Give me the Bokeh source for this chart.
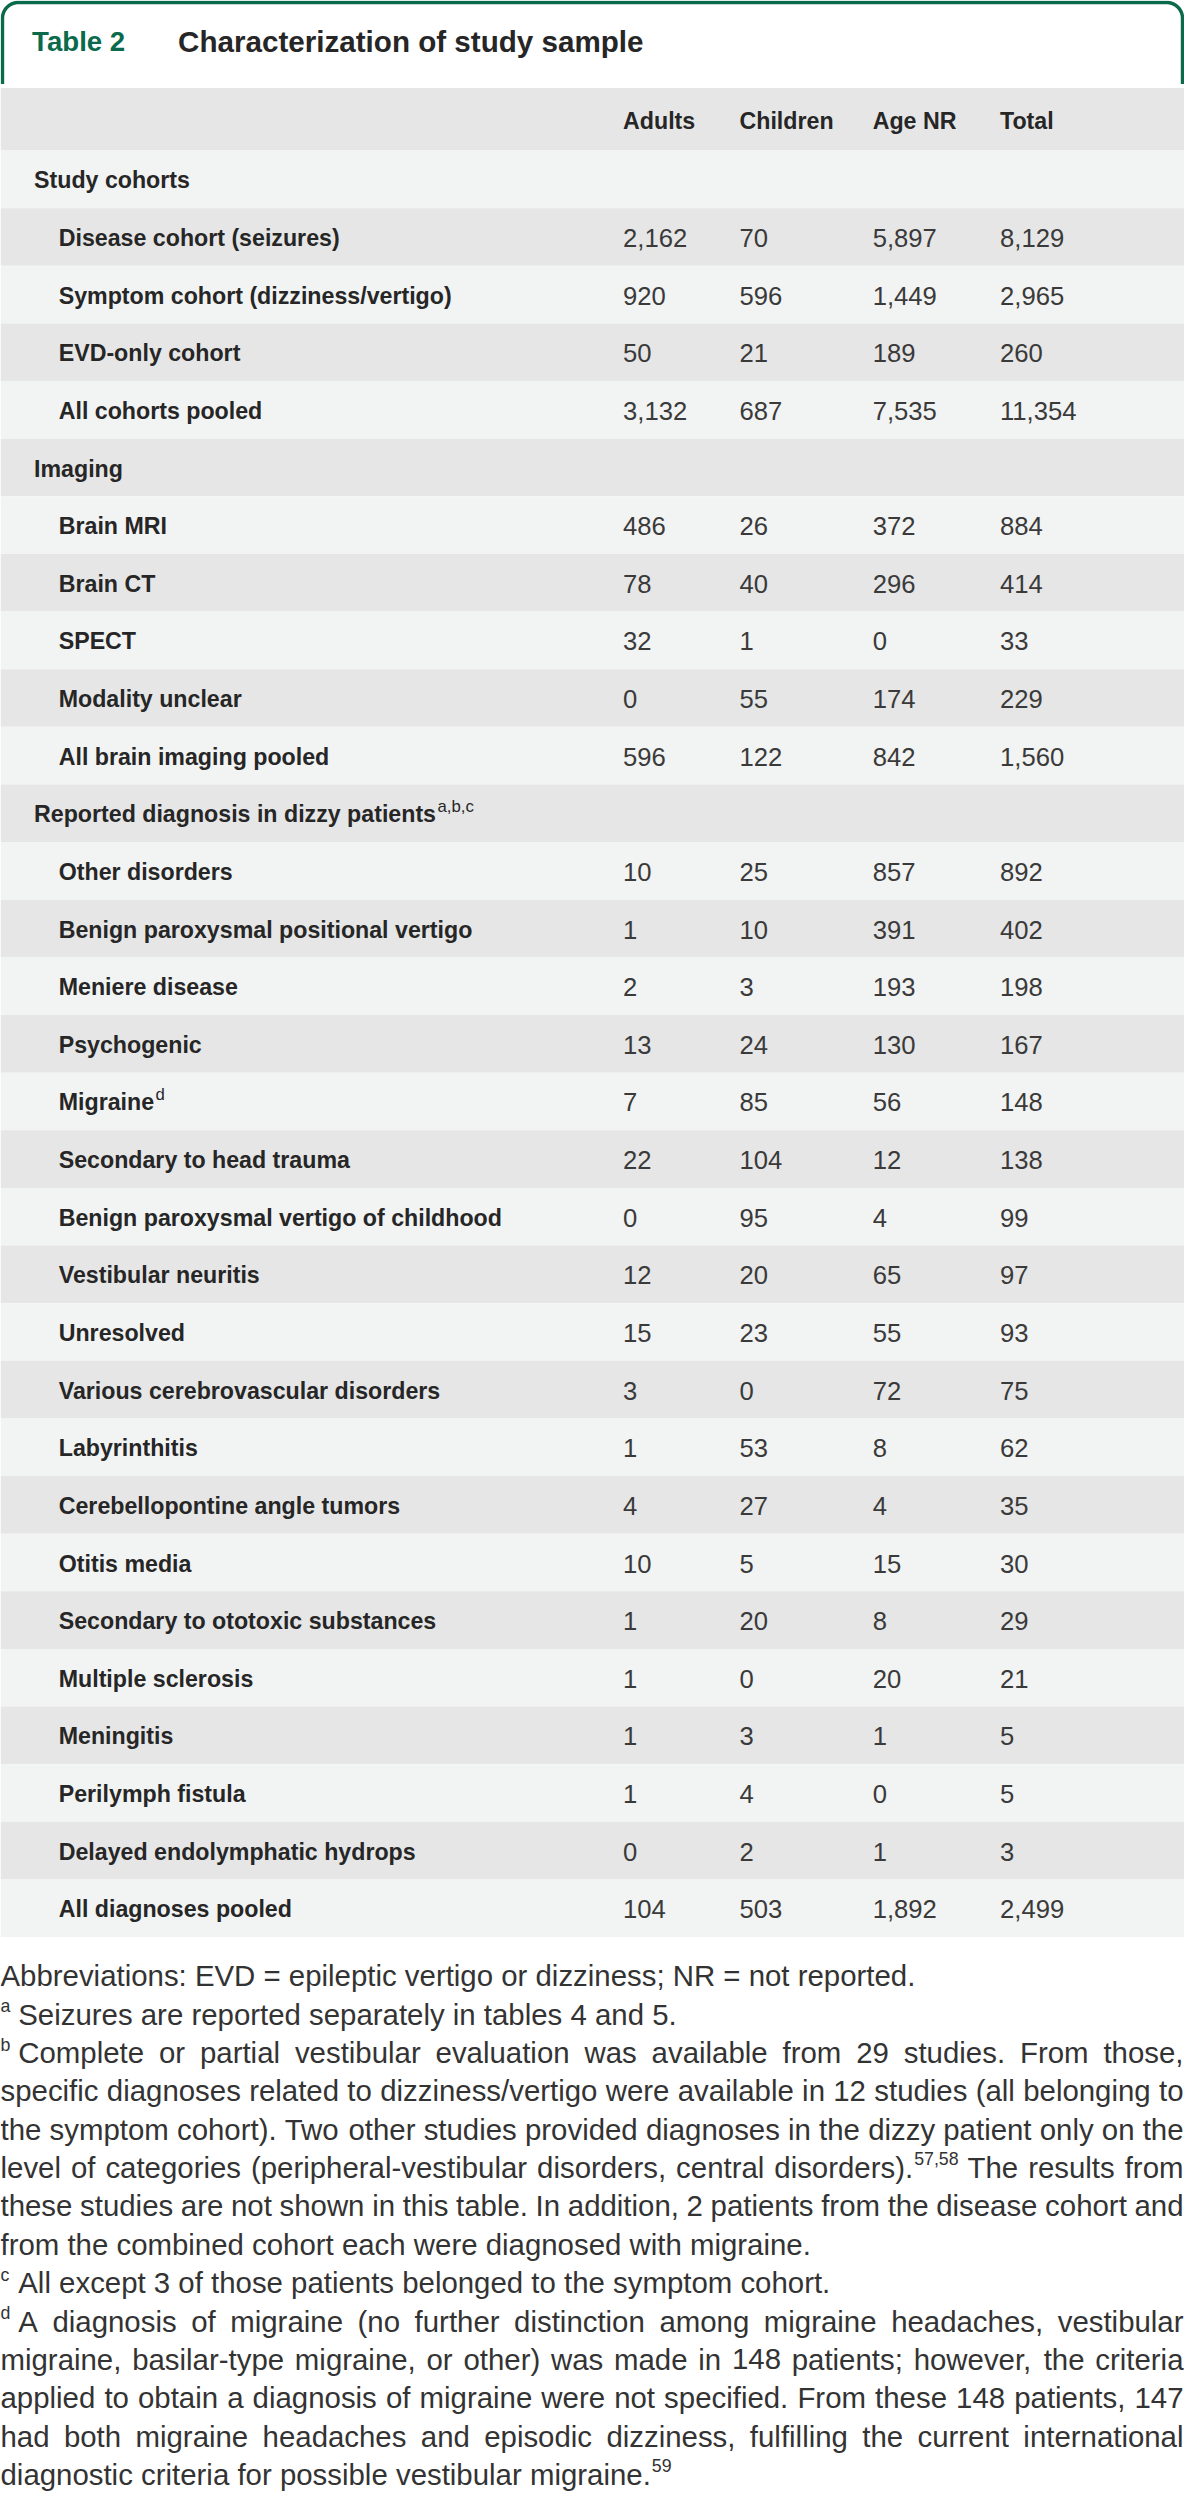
import numpy as np
from bokeh.plotting import figure
from bokeh.models import Range1d, ColumnDataSource
from bokeh.core.properties import value
from bokeh.embed import file_html
from bokeh.resources import INLINE

# ---------------- data ----------------
table_tag = "Table 2"
table_title = "Characterization of study sample"
col_headers = ["Adults", "Children", "Age NR", "Total"]

cohort_section = "Study cohorts"
cohort_labels = ["Disease cohort (seizures)", "Symptom cohort (dizziness/vertigo)",
                 "EVD-only cohort", "All cohorts pooled"]
cohort_adults = [2162, 920, 50, 3132]
cohort_children = [70, 596, 21, 687]
cohort_age_nr = [5897, 1449, 189, 7535]
cohort_total = [8129, 2965, 260, 11354]

imaging_section = "Imaging"
imaging_labels = ["Brain MRI", "Brain CT", "SPECT", "Modality unclear", "All brain imaging pooled"]
imaging_adults = [486, 78, 32, 0, 596]
imaging_children = [26, 40, 1, 55, 122]
imaging_age_nr = [372, 296, 0, 174, 842]
imaging_total = [884, 414, 33, 229, 1560]

dx_section = "Reported diagnosis in dizzy patients"
dx_section_sup = "a,b,c"
dx_labels = ["Other disorders", "Benign paroxysmal positional vertigo", "Meniere disease",
             "Psychogenic", "Migraine", "Secondary to head trauma",
             "Benign paroxysmal vertigo of childhood", "Vestibular neuritis", "Unresolved",
             "Various cerebrovascular disorders", "Labyrinthitis", "Cerebellopontine angle tumors",
             "Otitis media", "Secondary to ototoxic substances", "Multiple sclerosis", "Meningitis",
             "Perilymph fistula", "Delayed endolymphatic hydrops", "All diagnoses pooled"]
dx_label_sups = ["", "", "", "", "d", "", "", "", "", "", "", "", "", "", "", "", "", "", ""]
dx_adults = [10, 1, 2, 13, 7, 22, 0, 12, 15, 3, 1, 4, 10, 1, 1, 1, 1, 0, 104]
dx_children = [25, 10, 3, 24, 85, 104, 95, 20, 23, 0, 53, 27, 5, 20, 0, 3, 4, 2, 503]
dx_age_nr = [857, 391, 193, 130, 56, 12, 4, 65, 55, 72, 8, 4, 15, 8, 20, 1, 0, 1, 1892]
dx_total = [892, 402, 198, 167, 148, 138, 99, 97, 93, 75, 62, 35, 30, 29, 21, 5, 5, 3, 2499]

# footnotes: (marker, text, justified); "^" marks a superscript tail of a word
foot_lines = [
    ("", "Abbreviations: EVD = epileptic vertigo or dizziness; NR = not reported.", False),
    ("a", "Seizures are reported separately in tables 4 and 5.", False),
    ("b", "Complete or partial vestibular evaluation was available from 29 studies. From those,", True),
    ("", "specific diagnoses related to dizziness/vertigo were available in 12 studies (all belonging to", True),
    ("", "the symptom cohort). Two other studies provided diagnoses in the dizzy patient only on the", True),
    ("", "level of categories (peripheral-vestibular disorders, central disorders).^57,58 The results from", True),
    ("", "these studies are not shown in this table. In addition, 2 patients from the disease cohort and", True),
    ("", "from the combined cohort each were diagnosed with migraine.", False),
    ("c", "All except 3 of those patients belonged to the symptom cohort.", False),
    ("d", "A diagnosis of migraine (no further distinction among migraine headaches, vestibular", True),
    ("", "migraine, basilar-type migraine, or other) was made in 148 patients; however, the criteria", True),
    ("", "applied to obtain a diagnosis of migraine were not specified. From these 148 patients, 147", True),
    ("", "had both migraine headaches and episodic dizziness, fulfilling the current international", True),
    ("", "diagnostic criteria for possible vestibular migraine.^59", False),
]

# ---------------- styling / layout (reference pixel units) ----------------
REF_W, REF_H = 1200, 2517
PW, PH = 1184, 2501
S = PW / REF_W

GREEN = "#0a6a4b"
DARK = "#262626"
NUM = "#3a3a3a"
BAND_DARK = "#e6e6e6"
BAND_LIGHT = "#f2f3f3"

SANS = "'Liberation Sans', Arial, sans-serif"

HEADER_TOP, HEADER_BOT = 88, 151
ROW_H = 58.0
COL_X = [631, 749, 884, 1013]
SEC_X, ITEM_X = 34, 59

F_LABEL = 23.5
F_NUM = 26
F_FOOT = 29.8
F_SUP = 18
FOOT_Y0, FOOT_DY = 1988, 38.6

# Arial / Liberation metrics (1/1000 em)
_REG = {' ': 278, '(': 333, ')': 333, ',': 278, '-': 333, '.': 278, '/': 278, ':': 278, ';': 278,
        '=': 584, 'A': 667, 'B': 667, 'C': 722, 'D': 722, 'E': 667, 'F': 611, 'G': 778, 'H': 722,
        'I': 278, 'J': 500, 'K': 667, 'L': 556, 'M': 833, 'N': 722, 'O': 778, 'P': 667, 'Q': 778,
        'R': 722, 'S': 667, 'T': 611, 'U': 722, 'V': 667, 'W': 944, 'X': 667, 'Y': 667, 'Z': 611,
        'a': 556, 'b': 556, 'c': 500, 'd': 556, 'e': 556, 'f': 278, 'g': 556, 'h': 556, 'i': 222,
        'j': 222, 'k': 500, 'l': 222, 'm': 833, 'n': 556, 'o': 556, 'p': 556, 'q': 556, 'r': 333,
        's': 500, 't': 278, 'u': 556, 'v': 500, 'w': 722, 'x': 500, 'y': 500, 'z': 500}
_BOLD = {' ': 278, '(': 333, ')': 333, ',': 278, '-': 333, '.': 278, '/': 278, ':': 333, ';': 333,
         'A': 722, 'B': 722, 'C': 722, 'D': 722, 'E': 667, 'F': 611, 'G': 778, 'H': 722, 'I': 278,
         'J': 556, 'K': 722, 'L': 611, 'M': 833, 'N': 722, 'O': 778, 'P': 667, 'Q': 778, 'R': 722,
         'S': 667, 'T': 611, 'U': 722, 'V': 667, 'W': 944, 'X': 667, 'Y': 667, 'Z': 611,
         'a': 556, 'b': 611, 'c': 556, 'd': 611, 'e': 556, 'f': 333, 'g': 611, 'h': 611, 'i': 278,
         'j': 278, 'k': 556, 'l': 278, 'm': 889, 'n': 611, 'o': 611, 'p': 611, 'q': 611, 'r': 389,
         's': 556, 't': 333, 'u': 611, 'v': 556, 'w': 778, 'x': 556, 'y': 556, 'z': 500}


def tw(s, size, table=_REG, k=1.0):
    return sum(table.get(ch, 556) for ch in s) / 1000.0 * size * k


def px(size):
    return value(f"{size * S:.2f}px")


p = figure(width=PW, height=PH, x_range=Range1d(0, REF_W), y_range=Range1d(REF_H, 0),
           output_backend="svg", toolbar_location=None, min_border=0)
p.axis.visible = False
p.grid.visible = False
p.outline_line_color = None
p.background_fill_color = "white"
p.border_fill_color = "white"


def add_text(xs, ys, texts, size, font, color, style="normal"):
    src = ColumnDataSource(dict(x=list(xs), y=list(ys), t=list(texts)))
    p.text(x="x", y="y", text="t", source=src, text_font=value(font), text_font_size=px(size),
           text_font_style=style, text_color=color, text_baseline="middle", text_align="left")


# ---------------- title tab border ----------------
R = 16
xl, xr, yt, yb = 2, 1198, 2, 84
th1 = np.linspace(np.pi, 1.5 * np.pi, 20)
th2 = np.linspace(1.5 * np.pi, 2 * np.pi, 20)
bx = np.concatenate([[xl], xl + R + R * np.cos(th1), xr - R + R * np.cos(th2), [xr]])
by = np.concatenate([[yb], yt + R + R * np.sin(th1), yt + R + R * np.sin(th2), [yb]])
p.line(bx, by, line_color=GREEN, line_width=3.5 * S)

add_text([32], [41], [table_tag], 28, SANS, GREEN, "bold")
add_text([180], [41], [table_title], 30, SANS, DARK, "bold")

# ---------------- rows ----------------
rows = []
groups = [
    (cohort_section, "", cohort_labels, [""] * len(cohort_labels),
     cohort_adults, cohort_children, cohort_age_nr, cohort_total),
    (imaging_section, "", imaging_labels, [""] * len(imaging_labels),
     imaging_adults, imaging_children, imaging_age_nr, imaging_total),
    (dx_section, dx_section_sup, dx_labels, dx_label_sups,
     dx_adults, dx_children, dx_age_nr, dx_total),
]
for sec, ssup, labels, sups, a, c, n, t in groups:
    rows.append(("section", sec, ssup, None))
    for i, lab in enumerate(labels):
        rows.append(("item", lab, sups[i], (a[i], c[i], n[i], t[i])))

# backgrounds
lefts, rights, tops, bots, cols = [0], [REF_W], [HEADER_TOP], [HEADER_BOT], [BAND_DARK]
for i in range(len(rows)):
    top = HEADER_BOT + i * ROW_H
    lefts.append(0); rights.append(REF_W); tops.append(top); bots.append(top + ROW_H)
    cols.append(BAND_LIGHT if i % 2 == 0 else BAND_DARK)
p.quad(left="left", right="right", top="top", bottom="bottom", fill_color="color", line_color=None,
       source=ColumnDataSource(dict(left=lefts, right=rights, top=tops, bottom=bots, color=cols)))

# column headers
add_text(COL_X, [121] * 4, col_headers, F_LABEL, SANS, DARK, "bold")

lx, ly, lt = [], [], []
sx, sy, st = [], [], []
nx, ny, nt = [], [], []
for i, (kind, lab, sup, vals) in enumerate(rows):
    yc = HEADER_BOT + i * ROW_H + ROW_H / 2 + 1
    x0 = SEC_X if kind == "section" else ITEM_X
    lx.append(x0); ly.append(yc); lt.append(lab)
    if sup:
        sx.append(x0 + tw(lab, F_LABEL, _BOLD) + 1.5); sy.append(yc - 8); st.append(sup)
    if vals is not None:
        for cx, v in zip(COL_X, vals):
            nx.append(cx); ny.append(yc); nt.append(f"{v:,}")

add_text(lx, ly, lt, F_LABEL, SANS, DARK, "bold")
add_text(sx, sy, st, 17, SANS, DARK)
add_text(nx, ny, nt, F_NUM, SANS, NUM)

# ---------------- footnotes ----------------
fx, fy, ft = [], [], []
mx, my, mt = [], [], []
RIGHT = 1199
for k, (marker, text, just) in enumerate(foot_lines):
    y = FOOT_Y0 + k * FOOT_DY
    x0 = 0
    if marker:
        mx.append(0); my.append(y - 8); mt.append(marker)
        x0 = 18
    words = text.split(" ")
    parts = []
    for w in words:
        if "^" in w:
            base, sup = w.split("^")
            parts.append((base, sup, tw(base, F_FOOT) + tw(sup, F_SUP)))
        else:
            parts.append((w, "", tw(w, F_FOOT)))
    if just and len(parts) > 1:
        gap = (RIGHT - x0 - sum(pw for _, _, pw in parts)) / (len(parts) - 1)
    else:
        gap = tw(" ", F_FOOT)
    if not just and not any(s for _, s, _ in parts):
        fx.append(x0); fy.append(y); ft.append(text)
        continue
    x = x0
    for base, sup, pw in parts:
        fx.append(x); fy.append(y); ft.append(base)
        if sup:
            mx.append(x + tw(base, F_FOOT) + 1); my.append(y - 9); mt.append(sup)
        x += pw + gap

add_text(fx, fy, ft, F_FOOT, SANS, "#333333")
add_text(mx, my, mt, F_SUP, SANS, "#333333")

open("out.html", "w").write(file_html(p, INLINE))
